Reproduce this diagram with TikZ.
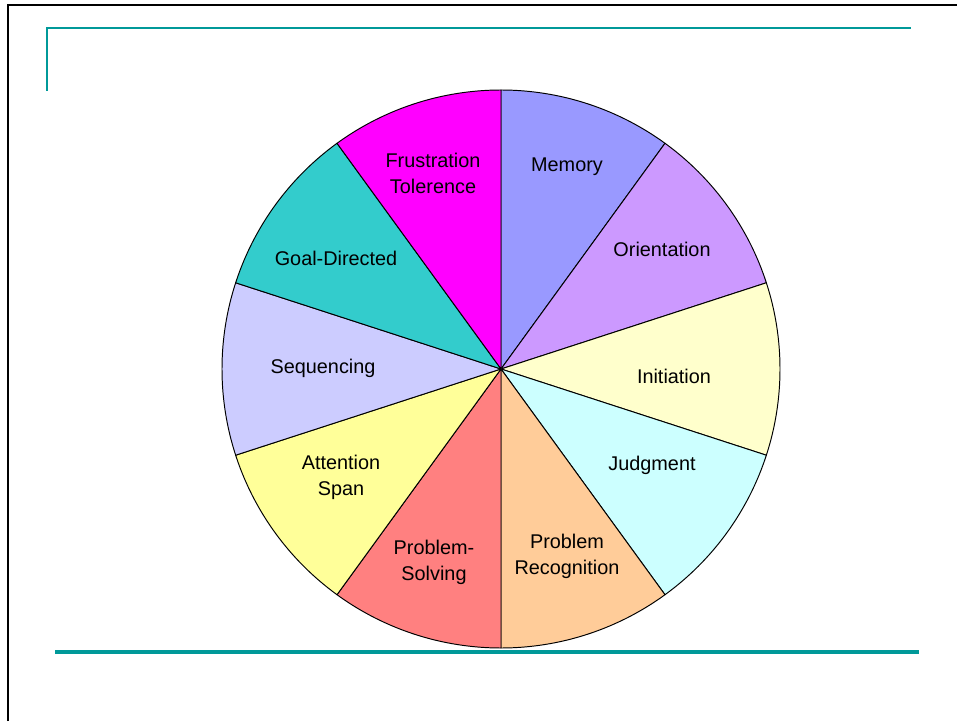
\documentclass[tikz,border=0pt]{standalone}
\usepackage{fontspec}
\setmainfont{Liberation Sans}
\usepackage{tikz}
\tikzset{
	slice/.style  = {draw=black, line width=0.55pt, line join=round},
	lbl/.style    = {align=center, inner sep=0pt,
		font=\fontsize{11.3}{14.8}\selectfont},
	rule/.style   = {draw=rulecol, line width=1.2pt},
	frame/.style  = {draw=black, line width=1.5pt}
}
\definecolor{rulecol}{HTML}{009999}
\definecolor{cMem}{HTML}{9999FF}
\definecolor{cOri}{HTML}{CC99FF}
\definecolor{cIni}{HTML}{FFFFCC}
\definecolor{cJud}{HTML}{CCFFFF}
\definecolor{cRec}{HTML}{FFCC99}
\definecolor{cSol}{HTML}{FF8080}
\definecolor{cAtt}{HTML}{FFFF99}
\definecolor{cSeq}{HTML}{CCCCFF}
\definecolor{cGoal}{HTML}{33CCCC}
\definecolor{cFru}{HTML}{FF00FF}

\begin{document}
\begin{tikzpicture}[x=0.02cm, y=0.02cm]
	\useasboundingbox (0,0) rectangle (957,721);
	\fill[white] (0,0) rectangle (957,721);

	% slide frame and rules
	\draw[frame] (8,0) -- (8,716) -- (957,716);
	\draw[rule] (46,693) -- (911,693);
	\draw[rule] (47,693) -- (47,630);
	\draw[rule, line width=1.8pt] (55,69) -- (919,69);

	% the wheel
	\coordinate (ctr) at (501,352);
	\foreach \a/\c in {54/cMem, 18/cOri, -18/cIni, -54/cJud, -90/cRec,
		-126/cSol, -162/cAtt, 162/cSeq, 126/cGoal, 90/cFru}
	{
		\filldraw[slice, fill=\c] (ctr) -- ++(\a:279)
			arc[start angle=\a, delta angle=36, radius=279] -- cycle;
	}

	\draw
	node at (567,554) [lbl] (mem) {Memory}
	node at (662,472) [lbl] (ori) {Orientation}
	node at (674,345) [lbl] (ini) {Initiation}
	node at (652,256) [lbl] (jud) {Judgment}
	node at (567,165) [lbl] (rec) {Problem\\Recognition}
	node at (434,159) [lbl] (sol) {Problem-\\Solving}
	node at (341,244) [lbl] (att) {Attention\\Span}
	node at (323,353) [lbl] (seq) {Sequencing}
	node at (336,463) [lbl] (goal) {Goal-Directed}
	node at (433,548) [lbl] (fru) {Frustration\\Tolerence};
\end{tikzpicture}
\end{document}
